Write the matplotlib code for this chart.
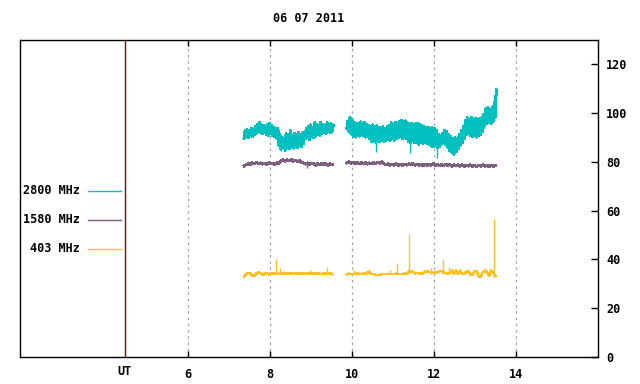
import numpy as np
import matplotlib
matplotlib.use("Agg")
import matplotlib.pyplot as plt

# ---------------- data ----------------
title = "06 07 2011"
xticks = [6, 8, 10, 12, 14]
xtick_labels = ["6", "8", "10", "12", "14"]
yticks = [0, 20, 40, 60, 80, 100, 120]
ut_pos = 4.46
legend_labels = ["2800 MHz", "1580 MHz", "403 MHz"]
colors = {"2800 MHz": "#00c0c0", "1580 MHz": "#7f5f7f", "403 MHz": "#ffc020"}

seg1_range = (7.37, 9.52)
seg2_range = (9.88, 13.50)

# 2800 MHz: lower / upper envelope of the noisy trace
teal_lo1 = [89.8, 90.4, 89.9, 90.6, 90.3, 91.2, 91.8, 92.4, 91.9, 91.5,
            92.0, 91.3, 90.9, 91.6, 90.8, 90.4, 89.6, 86.9, 85.2, 85.9,
            84.8, 86.1, 85.4, 86.3, 85.7, 86.5, 85.9, 86.8, 86.2, 87.6,
            89.4, 89.9, 89.2, 90.3, 90.0, 90.6, 91.2, 90.8, 91.5, 92.0,
            91.6, 92.3, 91.9, 92.6]
teal_hi1 = [92.8, 93.3, 92.9, 93.9, 93.5, 94.6, 95.4, 96.1, 95.2, 95.0,
            94.6, 95.3, 95.7, 94.8, 94.3, 93.9, 93.6, 91.4, 90.2, 89.7,
            91.5, 90.6, 92.8, 90.9, 91.8, 91.2, 92.0, 91.4, 91.9, 92.3,
            93.6, 94.5, 95.2, 94.3, 96.1, 95.4, 94.9, 96.3, 95.5, 94.8,
            96.0, 95.2, 95.6, 94.9]
teal_lo2 = [93.6, 92.4, 91.8, 90.5, 90.2, 91.0, 90.6, 91.3, 90.8, 90.2,
            90.6, 89.5, 88.4, 88.9, 88.1, 88.6, 88.2, 88.9, 88.3, 88.7,
            89.1, 88.8, 89.4, 88.9, 89.6, 90.0, 90.4, 89.7, 90.2, 89.5,
            88.3, 88.0, 88.6, 87.8, 88.1, 87.3, 87.9, 87.5, 88.1, 87.6,
            87.0, 86.5, 86.2, 86.8, 85.8, 86.2, 87.3, 87.9, 87.1, 85.9,
            84.6, 83.9, 83.2, 84.1, 85.3, 86.9, 87.8, 89.6, 91.2, 91.6,
            90.9, 90.3, 90.8, 90.2, 90.9, 91.4, 92.6, 94.8, 95.9, 96.2,
            95.8, 96.6, 98.4]
teal_hi2 = [96.7, 98.2, 97.3, 96.1, 95.6, 95.9, 96.4, 95.7, 96.1, 95.3,
            95.0, 94.6, 95.2, 94.7, 94.9, 94.3, 94.0, 94.4, 93.8, 94.6,
            95.1, 96.0, 95.4, 96.3, 95.8, 96.5, 97.1, 96.4, 96.8, 96.0,
            95.6, 95.9, 95.3, 95.7, 95.8, 95.2, 94.9, 94.5, 94.1, 94.3,
            93.7, 94.0, 93.6, 92.8, 91.2, 90.7, 91.8, 93.0, 92.6, 91.4,
            90.3, 89.8, 90.1, 89.7, 91.2, 92.8, 94.6, 96.9, 98.1, 97.6,
            98.3, 97.4, 98.0, 97.5, 97.9, 98.2, 99.6, 101.8, 102.3, 101.7,
            102.4, 104.2, 109.5]
teal_spike_t = [8.26, 10.59, 11.42, 12.08]
teal_spike_v = [84.3, 84.0, 83.5, 81.5]

# 1580 MHz
purple1 = [78.4, 78.9, 79.3, 78.9, 79.6, 79.2, 79.8, 79.3, 79.6, 79.1,
           79.5, 79.0, 79.6, 79.2, 79.5, 79.0, 79.6, 79.4, 80.3, 80.8,
           80.2, 80.9, 80.4, 81.0, 80.3, 80.7, 80.1, 80.6, 79.9, 79.6,
           79.1, 79.6, 79.0, 79.5, 79.2, 78.7, 79.3, 78.8, 79.4, 78.9,
           79.3, 78.7, 79.2, 79.0]
purple2 = [79.6, 80.1, 79.4, 79.9, 79.3, 79.8, 79.2, 79.7, 79.3, 79.8,
           79.1, 79.6, 79.2, 79.7, 79.4, 79.9, 79.5, 80.0, 79.3, 78.8,
           79.2, 78.6, 79.1, 78.7, 79.2, 78.5, 79.0, 78.6, 79.1, 78.7,
           79.2, 78.8, 79.3, 78.7, 79.1, 78.6, 79.0, 78.5, 79.0, 78.6,
           79.1, 78.7, 79.2, 78.6, 79.0, 78.4, 78.9, 78.5, 79.0, 78.6,
           78.9, 78.3, 78.8, 78.4, 78.9, 78.3, 78.8, 78.2, 78.7, 78.3,
           78.8, 78.2, 78.6, 78.1, 78.7, 78.3, 78.8, 78.2, 78.6, 78.1,
           78.7, 78.2, 78.5]
purple_spike_t = [8.90]
purple_spike_v = [77.7]

# 403 MHz
yellow1 = [32.9, 33.8, 34.5, 34.4, 33.4, 33.3, 34.2, 34.9, 34.3, 33.6,
           34.1, 34.3, 33.9, 34.4, 34.1, 34.3, 34.2, 34.0, 34.3, 34.3,
           34.1, 34.3, 34.2, 34.3, 34.0, 34.2, 34.3, 34.3, 34.1, 34.3,
           34.0, 34.2, 34.3, 34.3, 34.1, 34.2, 34.3, 34.0, 34.2, 34.3,
           34.1, 34.2, 34.3, 34.0]
yellow2 = [33.8, 34.2, 34.0, 34.1, 34.0, 34.3, 34.1, 34.0, 34.2, 34.1,
           34.8, 34.7, 34.0, 34.1, 33.7, 33.6, 33.7, 34.0, 34.1, 34.0,
           34.1, 34.0, 34.1, 34.0, 34.2, 34.1, 34.0, 34.1, 34.2, 34.0,
           35.0, 35.2, 34.9, 34.3, 34.4, 34.3, 34.2, 34.3, 35.0, 35.1,
           34.9, 34.6, 34.5, 34.6, 34.7, 35.3, 35.2, 34.6, 34.5, 34.0,
           34.6, 35.5, 34.2, 35.6, 34.1, 35.4, 34.0, 34.1, 35.0, 35.2,
           33.7, 33.8, 35.3, 35.2, 33.1, 32.9, 34.6, 35.6, 34.9, 33.4,
           35.5, 34.8, 33.2]
yellow_spike_t = [8.16, 8.25, 8.35, 8.98, 9.40, 10.05, 10.43, 10.93, 11.11,
                  11.40, 11.94, 12.23, 12.38, 13.48]
yellow_spike_v = [40.1, 36.6, 35.2, 35.6, 36.9, 35.5, 36.0, 35.6, 38.6,
                  50.5, 36.3, 39.7, 37.0, 56.5]

# ---------------- figure ----------------
mono = ["DejaVu Sans Mono"]
plt.rcParams["font.family"] = mono
FS = 8.5
PX = 0.72  # one pixel in points at 100 dpi

fig = plt.figure(figsize=(6.4, 3.84), dpi=100)
ax = fig.add_axes([20 / 640, 1 - 357 / 384, 578 / 640, 317 / 384])
ax.set_xlim(1.9, 16.01)
ax.set_ylim(0, 130)


def zigzag(lo, hi, rng):
    n = len(lo)
    t = np.linspace(rng[0], rng[1], n)
    dt = (rng[1] - rng[0]) / (n - 1)
    tz = np.empty(2 * n)
    vz = np.empty(2 * n)
    tz[0::2] = t
    tz[1::2] = t + dt / 2
    vz[0::2] = lo
    vz[1::2] = hi
    return tz, vz


c_t, c_p, c_y = colors["2800 MHz"], colors["1580 MHz"], colors["403 MHz"]

for lo, hi, rng in [(teal_lo1, teal_hi1, seg1_range), (teal_lo2, teal_hi2, seg2_range)]:
    tz, vz = zigzag(lo, hi, rng)
    ax.plot(tz, vz, color=c_t, lw=2 * PX, zorder=3, antialiased=False)
ax.vlines(teal_spike_t, teal_spike_v, 89.0, color=c_t, lw=1.0, zorder=3)

for vals, rng in [(purple1, seg1_range), (purple2, seg2_range)]:
    t = np.linspace(rng[0], rng[1], len(vals))
    ax.plot(t, vals, color=c_p, lw=2 * PX, zorder=4, antialiased=False)
ax.vlines(purple_spike_t, purple_spike_v, 79.0, color=c_p, lw=1.0, zorder=4)

for vals, rng in [(yellow1, seg1_range), (yellow2, seg2_range)]:
    t = np.linspace(rng[0], rng[1], len(vals))
    ax.plot(t, vals, color=c_y, lw=1.5 * PX, zorder=5, antialiased=False)
ax.vlines(yellow_spike_t, 34.0, yellow_spike_v, color=c_y, lw=1.0, zorder=5)

# grid + UT line
for xt in xticks:
    ax.axvline(xt, color="#a0a0a0", lw=0.9, ls=(0, (2, 3)), zorder=1)
ax.axvline(ut_pos, color="#900000", lw=1.0, zorder=2)

# axes styling
for s in ax.spines.values():
    s.set_linewidth(1.0)
    s.set_color("black")
ax.set_xticks(xticks)
ax.set_xticklabels(xtick_labels, fontsize=FS, fontweight="bold")
ax.tick_params(axis="x", direction="in", top=True, bottom=True, length=4,
               width=1, pad=8)
ax.yaxis.tick_right()
ax.set_yticks(yticks)
ax.set_yticklabels([str(v) for v in yticks], fontsize=FS, fontweight="bold")
ax.tick_params(axis="y", direction="in", right=True, left=False, length=5,
               width=1, pad=6)

ax.text(ut_pos, -0.045, "UT", transform=ax.get_xaxis_transform(),
        ha="center", va="center", fontsize=FS, fontweight="bold")

fig.text(309 / 640, 1 - 18 / 384, title, ha="center", va="center",
         fontsize=FS, fontweight="bold")

# legend (drawn manually at the left)
leg_y = [191, 219.5, 248.5]
for lab, py in zip(legend_labels, leg_y):
    yf = (357 - py) / 317
    ax.text((80 - 20) / 578, yf, lab, transform=ax.transAxes, ha="right",
            va="center", fontsize=FS, fontweight="bold")
    ax.plot([(88 - 20) / 578, (121 - 20) / 578], [yf, yf],
            transform=ax.transAxes, color=colors[lab], lw=1.0, clip_on=False)

fig.savefig("out.png", dpi=100)
